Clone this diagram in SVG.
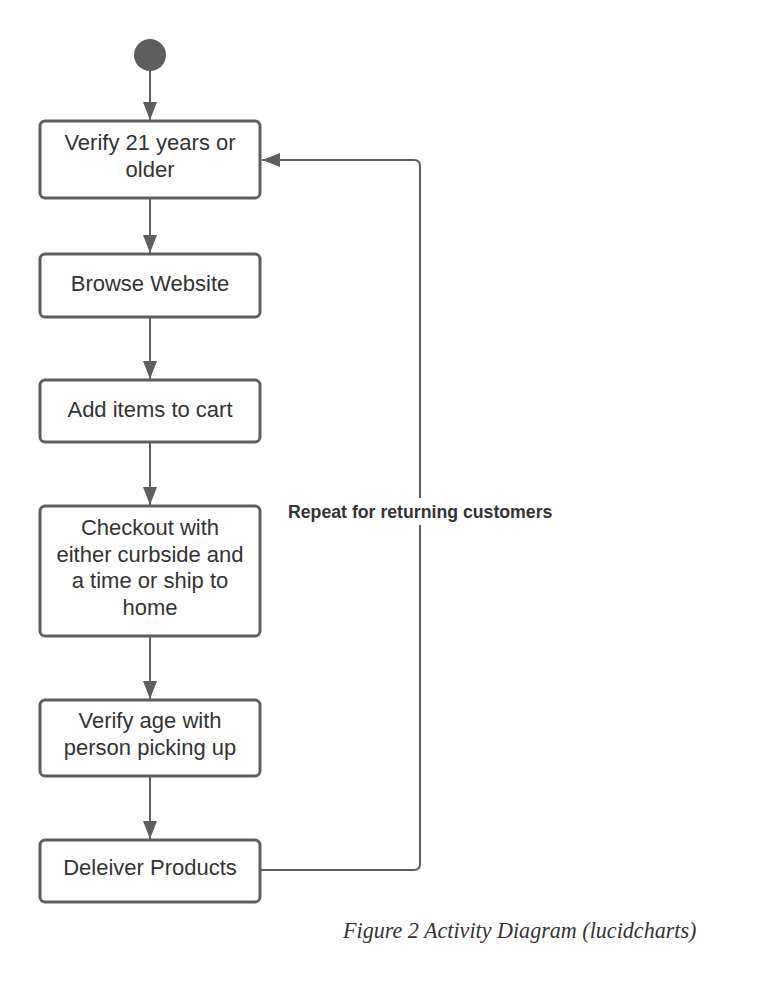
<svg xmlns="http://www.w3.org/2000/svg" width="760" height="1006" viewBox="0 0 760 1006">
  <style>
    .box { fill: #ffffff; stroke: #5e5e5e; stroke-width: 3; }
    .lbl { font-family: "Liberation Sans", Arial, sans-serif; font-size: 22px; fill: #333333; text-anchor: middle; }
    .edge { fill: none; stroke: #5e5e5e; stroke-width: 2; }
    .note { font-family: "Liberation Sans", Arial, sans-serif; font-size: 17.7px; font-weight: bold; fill: #333333; }
    .cap { font-family: "Liberation Serif", "Times New Roman", serif; font-size: 22.1px; font-style: italic; fill: #333333; }
  </style>
  <defs>
    <marker id="arr" markerWidth="18" markerHeight="14" refX="18" refY="7" orient="auto" markerUnits="userSpaceOnUse">
      <path d="M0,0 L18,7 L0,14 Z" fill="#5e5e5e"/>
    </marker>
  </defs>
  <rect width="760" height="1006" fill="#ffffff"/>

  <g id="connectors">
    <line class="edge" x1="150" y1="71" x2="150" y2="120" marker-end="url(#arr)"/>
    <line class="edge" x1="150" y1="199" x2="150" y2="253" marker-end="url(#arr)"/>
    <line class="edge" x1="150" y1="318" x2="150" y2="379" marker-end="url(#arr)"/>
    <line class="edge" x1="150" y1="443" x2="150" y2="505" marker-end="url(#arr)"/>
    <line class="edge" x1="150" y1="637" x2="150" y2="699" marker-end="url(#arr)"/>
    <line class="edge" x1="150" y1="777" x2="150" y2="839" marker-end="url(#arr)"/>
    <path class="edge" d="M261,870 L414,870 Q420,870 420,864 L420,166 Q420,160 414,160 L262,160" marker-end="url(#arr)"/>
    <g id="loop-label">
      <rect x="284" y="498" width="272" height="27" fill="#ffffff"/>
      <text class="note" x="288" y="518">Repeat for returning customers</text>
    </g>
  </g>

  <g id="start">
    <circle cx="150" cy="55" r="16" fill="#5e5e5e"/>
  </g>

  <g id="verify21">
    <rect class="box" x="40" y="121" width="220" height="77" rx="5"/>
    <text class="lbl" x="150" y="150">Verify 21 years or</text>
    <text class="lbl" x="150" y="177">older</text>
  </g>

  <g id="browse">
    <rect class="box" x="40" y="254" width="220" height="63" rx="5"/>
    <text class="lbl" x="150" y="291">Browse Website</text>
  </g>

  <g id="addcart">
    <rect class="box" x="40" y="380" width="220" height="62" rx="5"/>
    <text class="lbl" x="150" y="417">Add items to cart</text>
  </g>

  <g id="checkout">
    <rect class="box" x="40" y="506" width="220" height="130" rx="5"/>
    <text class="lbl" x="150" y="535">Checkout with</text>
    <text class="lbl" x="150" y="562">either curbside and</text>
    <text class="lbl" x="150" y="588">a time or ship to</text>
    <text class="lbl" x="150" y="615">home</text>
  </g>

  <g id="verifyage">
    <rect class="box" x="40" y="700" width="220" height="76" rx="5"/>
    <text class="lbl" x="150" y="728">Verify age with</text>
    <text class="lbl" x="150" y="755">person picking up</text>
  </g>

  <g id="deliver">
    <rect class="box" x="40" y="840" width="220" height="62" rx="5"/>
    <text class="lbl" x="150" y="875">Deleiver Products</text>
  </g>

  <text class="cap" x="343" y="938">Figure 2 Activity Diagram (lucidcharts)</text>
</svg>
